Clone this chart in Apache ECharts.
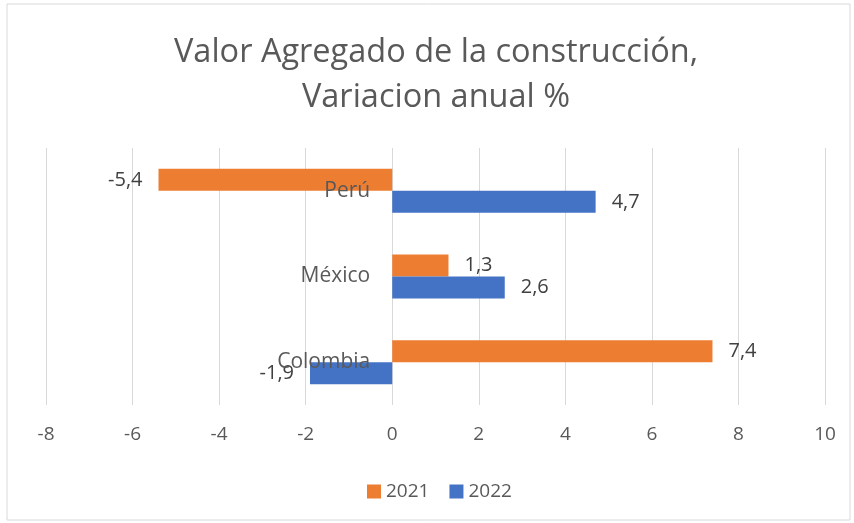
<!DOCTYPE html>
<html>
<head>
<meta charset="utf-8">
<script src="https://cdn.jsdelivr.net/npm/echarts@6/dist/echarts.min.js"></script>
<style>
  html, body { margin: 0; padding: 0; background: #fff; }
  #chart { width: 854px; height: 523px; }
</style>
</head>
<body>
<div id="chart"></div>
<script>
const categories = ['Perú', 'México', 'Colombia']
const values2021 = [-5.4, 1.3, 7.4]
const values2022 = [4.7, 2.6, -1.9]
const xTicks = { min: -8, max: 10, interval: 2 }

const font = '"Open Sans", sans-serif'
const colors = { '2021': '#ED7D31', '2022': '#4472C4' }

// positive labels to the right of the bar, negative ones to the left
const withLabels = (values) =>
  values.map((v) => ({
    value: v,
    label: { position: v < 0 ? 'left' : 'right' }
  }))

const makeSeries = (name, values) => ({
  name,
  type: 'bar',
  barWidth: 22,
  barGap: '0%',
  data: withLabels(values),
  itemStyle: { color: colors[name] },
  label: {
    show: true,
    distance: 16,
    fontFamily: font,
    fontSize: 20,
    color: '#404040',
    formatter: (p) => String(p.value).replace('.', ',')
  }
})

const chart = echarts.init(document.getElementById('chart'))

const gridLeft = 46
const gridRight = 29
// pixel x of value 0, so the category axis sits there like in excel
const zeroX = gridLeft + (0 - xTicks.min) / (xTicks.max - xTicks.min) * (854 - gridLeft - gridRight)

chart.setOption({
  animation: false,
  graphic: [{
    type: 'rect',
    shape: { x: 7, y: 4, width: 843, height: 516 },
    style: { fill: 'none', stroke: '#d9d9d9', lineWidth: 1 },
    z: -10
  }],
  title: {
    text: 'Valor Agregado de la construcción,\nVariacion anual %',
    left: 431,
    textAlign: 'center',
    top: 25,
    textStyle: {
      fontFamily: font,
      fontSize: 32.5,
      fontWeight: 'normal',
      color: '#595959',
      lineHeight: 45
    }
  },
  legend: {
    data: ['2021', '2022'],
    left: 362,
    top: 477,
    itemWidth: 14,
    itemHeight: 14,
    itemGap: 20,
    icon: 'rect',
    textStyle: { fontFamily: font, fontSize: 19, color: '#595959' }
  },
  grid: {
    left: gridLeft,
    right: gridRight,
    top: 148,
    bottom: 118,
    outerBoundsMode: 'none',
    containLabel: false
  },
  xAxis: {
    type: 'value',
    min: xTicks.min,
    max: xTicks.max,
    interval: xTicks.interval,
    axisLine: { show: false },
    axisTick: { show: false },
    splitLine: { show: true, lineStyle: { color: '#d9d9d9', width: 1 } },
    axisLabel: {
      fontFamily: font,
      fontSize: 19,
      color: '#595959',
      margin: 20
    }
  },
  yAxis: {
    type: 'category',
    data: categories,
    inverse: true,
    z: 5,
    offset: gridLeft - zeroX,
    axisLine: { show: false, onZero: false },
    axisTick: { show: false },
    axisLabel: {
      fontFamily: font,
      fontSize: 21,
      color: '#595959',
      margin: 22
    }
  },
  series: [
    makeSeries('2021', values2021),
    makeSeries('2022', values2022)
  ]
})
</script>
</body>
</html>
